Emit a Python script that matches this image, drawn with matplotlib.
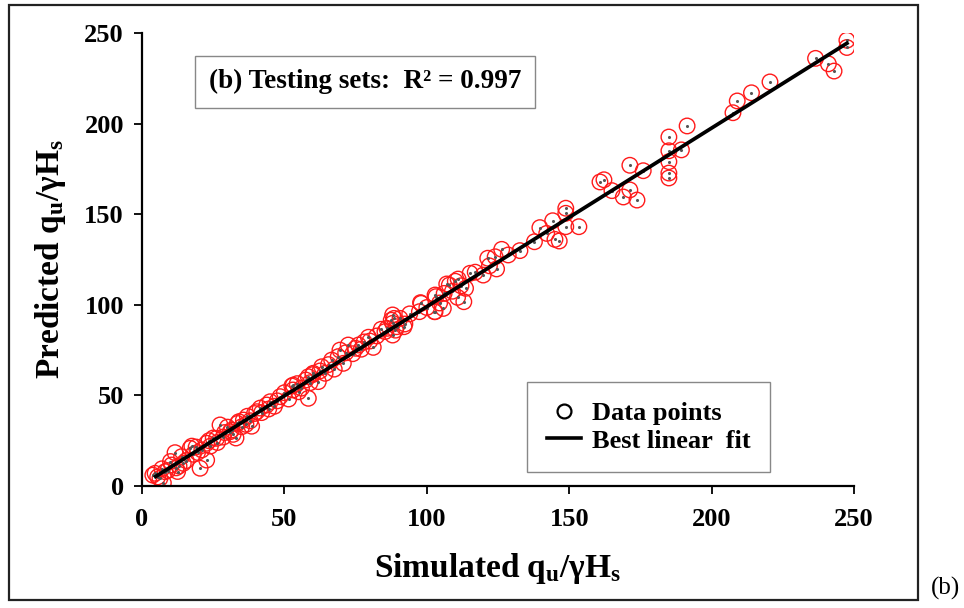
import numpy as np
import matplotlib
matplotlib.use("Agg")
import matplotlib.pyplot as plt
from matplotlib.lines import Line2D
from matplotlib.patches import Rectangle

plt.rcParams['font.family'] = ['Liberation Serif', 'DejaVu Serif']
plt.rcParams['font.weight'] = 'bold'
plt.rcParams['mathtext.default'] = 'regular'

# simulated vs predicted qu/gammaHs (testing sets)
sim = [4.6, 6.3, 7.5, 8.1, 10.4, 11.6, 13.9, 14.5, 16.9, 20.4, 21.0, 22.7, 22.7, 26.2,
       27.4, 31.5, 35.0, 35.6, 38.5, 40.3, 43.8, 48.5, 52.6, 58.4, 61.9,
       5.5, 9.0, 12.0, 15.5, 18.0, 19.0, 24.0, 25.0, 28.5, 30.0, 32.0, 33.5, 37.0, 38.0,
       42.0, 45.0, 46.5, 50.0, 51.5, 53.0, 54.5, 56.0, 57.5, 60.0, 29.0, 17.5, 12.5, 33.0,
       3.8, 7.0, 10.0, 13.0, 19.5, 23.5, 26.5, 31.0, 34.0, 36.5, 39.5, 41.5, 44.5, 47.5,
       55.0, 59.0, 62.5, 71.5, 77.0,
       63.1, 64.3, 60.1, 58.4, 53.1, 66.6, 68.9, 70.7, 69.5, 72.4, 76.0, 79.5, 82.4, 81.2,
       85.3, 88.0, 88.0, 88.0, 89.4, 92.0, 97.8, 97.4, 102.9, 102.9, 107.0, 92.3, 90.6,
       98.0, 102.7, 105.8, 103.2, 106.1, 107.9, 110.8, 113.0, 113.6, 111.0, 115.2, 119.8,
       124.5, 121.4, 124.0, 128.6, 126.3, 132.7, 137.8, 139.7, 142.1, 145.0, 146.5, 144.2,
       148.8, 148.8, 148.8, 153.4,
       65.5, 67.5, 74.0, 75.0, 78.0, 80.0, 84.0, 86.0, 87.5, 88.5, 89.0, 94.0, 100.0,
       104.5, 109.0, 110.0, 112.0, 117.0, 122.0,
       160.8, 162.2, 165.0, 169.0, 171.3, 173.8, 171.3, 176.0, 185.0, 185.0, 189.4, 185.0,
       185.0, 185.0, 191.4, 207.5, 209.0, 214.0, 220.5, 236.5, 241.0, 243.0, 247.5, 247.5]
pred = [7.0, 4.2, 1.7, 7.9, 11.6, 18.4, 16.2, 12.5, 20.8, 9.8, 19.9, 23.6, 14.3, 26.3,
        33.7, 30.9, 32.7, 36.4, 33.0, 41.0, 44.7, 49.3, 55.2, 48.4, 57.6,
        5.0, 8.5, 10.0, 14.0, 17.5, 21.5, 22.0, 26.5, 27.0, 32.5, 28.5, 34.5, 38.5, 36.0,
        40.5, 46.5, 44.0, 51.5, 48.0, 53.0, 56.5, 54.0, 58.5, 61.5, 29.5, 22.0, 8.0, 26.5,
        6.0, 9.5, 13.5, 11.0, 18.5, 25.0, 24.0, 30.0, 35.5, 34.0, 40.0, 43.0, 42.5, 47.0,
        52.0, 57.0, 63.5, 73.5, 75.5,
        65.8, 62.2, 62.2, 60.3, 55.7, 69.5, 71.4, 67.7, 75.0, 77.8, 77.8, 82.1, 82.8, 76.5,
        85.2, 94.4, 89.8, 83.3, 87.9, 87.9, 101.2, 96.2, 105.4, 96.2, 111.5, 89.4, 92.5,
        100.8, 96.2, 98.0, 104.5, 106.3, 110.9, 104.1, 101.7, 109.1, 114.2, 117.4, 116.4,
        119.8, 125.7, 126.5, 127.5, 130.6, 129.9, 134.8, 142.6, 139.4, 136.1, 135.2, 146.4,
        153.3, 150.5, 143.1, 143.1,
        67.0, 64.5, 73.0, 76.0, 79.5, 80.0, 86.5, 87.0, 91.5, 92.5, 86.0, 95.0, 98.5,
        101.0, 107.5, 113.0, 110.5, 118.0, 121.5,
        167.8, 169.0, 163.0, 159.5, 163.4, 157.8, 177.0, 174.0, 192.6, 185.0, 185.5, 179.0,
        172.7, 170.0, 198.7, 206.0, 212.5, 217.0, 223.0, 236.0, 233.0, 229.0, 246.0, 242.0]
r2 = 0.997
ticks = [0, 50, 100, 150, 200, 250]

sim = np.array(sim)
pred = np.array(pred)
slope, icpt = np.polyfit(sim, pred, 1)
xfit = np.array([sim.min() + 1, sim.max()])

fig = plt.figure(figsize=(9.64, 6.08), dpi=100)
ax = fig.add_axes([142/964, 1-486/608, (854-142)/964, (486-33)/608])

ax.scatter(sim, pred, s=125, facecolors='none', edgecolors='#ff1a1a', linewidths=1.0, zorder=2)
ax.scatter(sim, pred, s=1.5, color='#555555', zorder=3)
ax.plot(xfit, slope*xfit + icpt, color='black', lw=2.7, zorder=4)

ax.set_xlim(0, 250)
ax.set_ylim(0, 250)
ax.set_xticks(ticks)
ax.set_yticks(ticks)
ax.spines['top'].set_visible(False)
ax.spines['right'].set_visible(False)
for s in ['left', 'bottom']:
    ax.spines[s].set_linewidth(1.6)
ax.tick_params(direction='out', length=6, width=1.3, labelsize=19)
ax.tick_params(axis='x', pad=10)
ax.tick_params(axis='y', pad=7)
for lab in ax.get_xticklabels() + ax.get_yticklabels():
    lab.set_fontweight('bold')

ax.set_xlabel(r'Simulated q$\mathregular{_u}$/γH$\mathregular{_s}$', fontsize=24, fontweight='bold', labelpad=14)
ax.set_ylabel(r'Predicted q$\mathregular{_u}$/γH$\mathregular{_s}$', fontsize=24, fontweight='bold', labelpad=12)

ax.text(78.3, 223, '(b) Testing sets:  R² = %.3f' % r2, fontsize=19.5, fontweight='bold',
        ha='center', va='center',
        bbox=dict(boxstyle='square,pad=0.5', facecolor='white', edgecolor='#888888', lw=1))

handles = [Line2D([], [], marker='o', markersize=10, markerfacecolor='none', markeredgecolor='black',
                  markeredgewidth=1.6, linestyle='none'),
           Line2D([], [], color='black', lw=2.6)]
leg = ax.legend(handles, ['Data points', 'Best linear  fit'], loc='upper right',
                bbox_to_anchor=(770/964, 1-382/608), bbox_transform=fig.transFigure,
                borderaxespad=0, fancybox=False, edgecolor='#888888', framealpha=1,
                prop={'size': 19, 'weight': 'bold'}, handlelength=1.3, handletextpad=0.4,
                borderpad=0.75, labelspacing=0.15)
leg.get_frame().set_linewidth(1)

fig.add_artist(Rectangle((9/964, 1-600/608), (918-9)/964, (600-5)/608, transform=fig.transFigure,
                         fill=False, edgecolor='#222222', lw=1.6))
fig.text(945/964, 1-588/608, '(b)', fontsize=18, fontweight='normal', ha='center', va='center')

fig.savefig('out.png', dpi=100)
